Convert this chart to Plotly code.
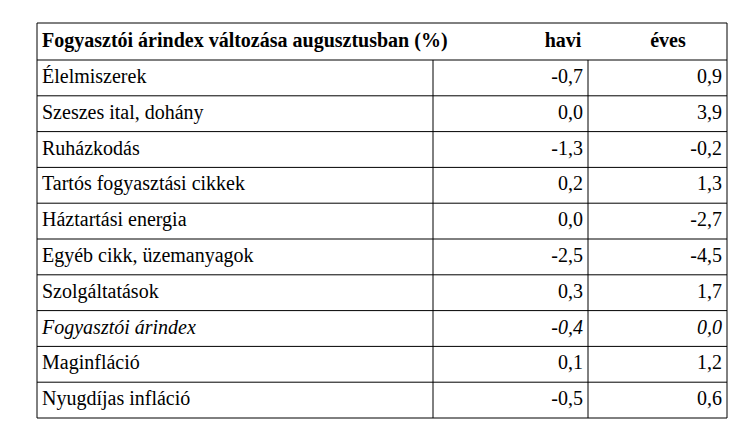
import plotly.graph_objects as go

title = "Fogyasztói árindex változása augusztusban (%)"
col_heads = ["havi", "éves"]
categories = ["Élelmiszerek", "Szeszes ital, dohány", "Ruházkodás",
              "Tartós fogyasztási cikkek", "Háztartási energia",
              "Egyéb cikk, üzemanyagok", "Szolgáltatások",
              "Fogyasztói árindex", "Maginfláció", "Nyugdíjas infláció"]
havi = [-0.7, 0.0, -1.3, 0.2, 0.0, -2.5, 0.3, -0.4, 0.1, -0.5]
eves = [0.9, 3.9, -0.2, 1.3, -2.7, -4.5, 1.7, 0.0, 1.2, 0.6]
italic_row = "Fogyasztói árindex"

# layout in pixels
left, right, top, head_bot, bottom = 29, 719, 15, 52, 410
c1, c2 = 425, 580
row_h = (bottom - head_bot) / len(categories)


def fmt(v, cat):
    s = f"{v:.1f}".replace(".", ",")
    return f"<i>{s}</i>" if cat == italic_row else s


def lab(cat):
    return f"<i>{cat}</i>" if cat == italic_row else cat


ys = [head_bot + row_h * (i + 0.5) for i in range(len(categories))]
font = dict(family="Liberation Serif, DejaVu Serif, serif", size=20, color="black")

fig = go.Figure()
fig.add_trace(go.Scatter(x=[left + 5] * len(categories), y=ys, mode="text",
                         text=[lab(c) for c in categories],
                         textposition="middle right", textfont=font))
fig.add_trace(go.Scatter(x=[c2 - 5] * len(categories), y=ys, mode="text",
                         text=[fmt(v, c) for v, c in zip(havi, categories)],
                         textposition="middle left", textfont=font))
fig.add_trace(go.Scatter(x=[right - 5] * len(categories), y=ys, mode="text",
                         text=[fmt(v, c) for v, c in zip(eves, categories)],
                         textposition="middle left", textfont=font))
hy = (top + head_bot) / 2
fig.add_trace(go.Scatter(x=[left + 5, 555, 660], y=[hy] * 3, mode="text",
                         text=[f"<b>{title}</b>"] + [f"<b>{h}</b>" for h in col_heads],
                         textposition=["middle right", "middle center", "middle center"],
                         textfont=font))

line = dict(color="black", width=1)
fig.add_shape(type="rect", x0=left, x1=right, y0=top, y1=bottom, line=line)
for i in range(len(categories)):
    y = head_bot + row_h * i
    fig.add_shape(type="line", x0=left, x1=right, y0=y, y1=y, line=line)
for x in (c1, c2):
    fig.add_shape(type="line", x0=x, x1=x, y0=head_bot, y1=bottom, line=line)

fig.update_layout(width=748, height=436, margin=dict(l=0, r=0, t=0, b=0),
                  showlegend=False, plot_bgcolor="white", paper_bgcolor="white",
                  xaxis=dict(range=[0, 748], visible=False, fixedrange=True),
                  yaxis=dict(range=[436, 0], visible=False, fixedrange=True))
fig.write_html("out.html")
